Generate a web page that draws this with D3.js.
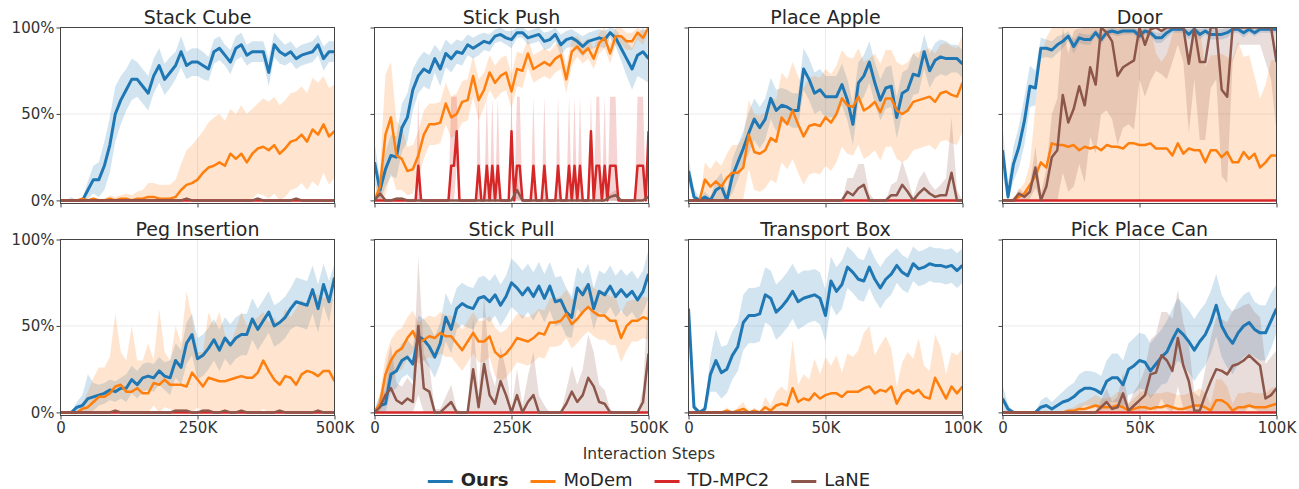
<!DOCTYPE html>
<html>
<head>
<meta charset="utf-8">
<script src="https://cdn.jsdelivr.net/npm/d3@7"></script>
<style>
  html, body { margin: 0; padding: 0; background: #fff; }
  svg { display: block; font-family: "DejaVu Sans", sans-serif; }
</style>
</head>
<body>
<svg id="chart" width="1299" height="489"></svg>
<script>
// ---- Methods, ticks ----
const methodNames = ["Ours", "MoDem", "TD-MPC2", "LaNE"];
const methodColors = ["#1f77b4", "#ff7f0e", "#d62728", "#8c564b"];
const yTickValues = [0, 50, 100];
const yTickLabels = ["0%", "50%", "100%"];
const xTickValues500 = [0, 250000, 500000];
const xTickLabels500 = ["0", "250K", "500K"];
const xTickValues100 = [0, 50000, 100000];
const xTickLabels100 = ["0", "50K", "100K"];
const xAxisTitle = "Interaction Steps";

// Success rate (%) per evaluation; *Sd = spread of the shaded band
const flatZero = [0,0,0,0,0,0,0,0,0,0, 0,0,0,0,0,0,0,0,0,0, 0,0,0,0,0,0,0,0,0,0, 0,0,0,0,0,0,0,0,0,0, 0,0,0,0,0,0,0,0,0,0, 0];

// Stack Cube (every 10K steps)
const stackCubeOurs = [0,0,0,0,0,6,12,12,20,32, 50,58,64,70,70,66,62,72,78,70, 74,78,86,78,80,80,78,76,86,88, 84,80,88,90,84,86,86,86,74,90, 86,84,86,82,84,85,86,90,82,86, 86];
const stackCubeOursSd = [0,0,2,0,1,5,8,10,14,16, 16,14,12,12,10,10,10,10,10,9, 9,8,9,8,8,8,8,7,7,7, 6,7,7,7,6,6,6,6,8,7, 7,6,6,6,6,6,6,6,7,6, 6];
const stackCubeModem = [0,0,0,0,1,0,1,0,0,1, 0,1,1,0,1,1,2,2,1,1, 1,2,6,9,10,12,16,19,20,22, 20,27,24,27,22,27,30,31,29,32, 27,30,34,35,38,34,41,38,44,37, 40];
const stackCubeModemSd = [0,0,0,0,1,1,1,1,1,2, 2,2,3,3,4,5,8,8,8,8, 8,10,15,20,22,24,24,26,28,28, 26,26,26,28,28,26,26,28,28,28, 28,28,28,28,28,28,30,30,28,28, 27];
const stackCubeLane = [0,0,0,0,0,0,0,0,0,0, 0,0,0,0,0,0,0,0,0,0, 0,0,0,1,0,0,0,0,0,0, 0,0,0,0,0,0,1,0,0,0, 0,0,0,1,0,0,0,0,0,0, 0];
const stackCubeLaneSd = [0,0,0,0,0,0,0,0,0,0, 0,0,0,0,0,0,0,0,0,0, 0,0,0,1,0,0,0,0,0,0, 0,0,0,0,0,0,1,0,0,0, 0,0,0,1,0,0,0,0,0,0, 0];

// Stick Push (every 10K steps; TD-MPC2 every 5K)
const stickPushOurs = [22,6,18,26,25,42,48,64,72,76, 74,82,76,85,82,86,85,90,88,90, 92,91,95,96,94,93,97,97,94,95, 96,92,93,96,90,93,94,92,89,92, 93,94,93,97,94,88,82,76,84,86, 82];
const stickPushOursSd = [12,6,10,12,12,14,14,12,10,10, 10,8,10,8,8,7,7,6,6,6, 5,5,4,4,4,5,3,3,4,4, 4,5,5,4,6,5,5,5,6,5, 5,5,5,3,5,7,10,12,12,16, 14];
const stickPushModem = [0,8,38,48,26,24,17,18,26,38, 44,44,45,56,48,50,57,58,72,58, 64,74,68,72,74,63,76,75,85,76, 78,80,78,82,84,70,86,89,85,88, 82,91,94,85,95,95,92,92,97,94, 100];
const stickPushModemSd = [2,10,35,32,20,18,14,14,14,14, 12,12,12,12,12,12,12,12,12,12, 10,10,10,10,10,10,10,10,8,8, 8,8,8,8,8,8,8,6,6,6, 6,6,6,6,5,5,5,5,4,4, 3];
const stickPushTdmpc = [0,0,0,0,0,0,0,0,0,0, 0,0,0,0,0,0,20,0,0,0, 0,0,0,0,0,0,0,0,20,20,
  40,0,0,0,0,0,0,0,20,0, 0,20,0,20,0,20,0,0,0,0, 40,0,20,20,0,0,0,0,20,0,
  0,0,20,0,0,0,0,20,0,0, 0,20,0,20,0,20,0,0,0,40, 0,20,20,0,20,0,20,20,20,0,
  0,0,0,0,0,0,20,20,20,0, 40];
const stickPushTdmpcSd = [0,0,0,0,0,0,0,0,0,0, 0,0,0,0,0,0,40,0,0,0, 0,0,0,0,0,0,0,0,40,40,
  20,0,0,0,0,0,0,0,40,0, 0,40,0,40,0,40,0,0,0,0, 20,0,40,40,0,0,0,0,40,0,
  0,0,40,0,0,0,0,40,0,0, 0,40,0,40,0,40,0,0,0,20, 0,40,40,0,40,0,40,40,40,0,
  0,0,0,0,0,0,40,40,40,0, 20];
const stickPushLane = [0,4,0,0,1,1,0,0,0,0, 0,0,0,0,0,0,0,0,0,0, 0,0,0,0,0,0,6,0,0,0, 0,0,0,0,0,0,0,0,0,0, 0,0,0,2,3,0,0,0,0,0, 2];
const stickPushLaneSd = [0,4,0,0,1,1,0,0,0,0, 0,0,0,0,0,0,0,0,0,0, 0,0,0,0,0,0,5,0,0,0, 0,0,0,0,0,0,0,0,0,0, 0,0,0,2,3,0,0,0,0,0, 2];

// Place Apple (every 2K steps)
const placeAppleOurs = [17,2,0,2,0,6,8,0,14,22, 30,39,47,42,47,59,52,55,54,52, 52,76,70,62,64,60,60,60,67,58, 44,68,72,80,68,58,65,66,48,62, 64,73,72,86,75,81,83,82,82,82, 79];
const placeAppleOursSd = [8,5,1,3,2,6,8,5,10,10, 10,12,12,12,12,12,12,10,10,10, 10,12,12,12,12,12,12,12,12,12, 12,12,12,12,12,12,12,12,12,12, 12,12,10,10,10,10,10,10,8,8, 8];
const placeAppleModem = [0,0,0,12,8,11,8,13,16,16, 19,38,28,27,29,36,34,48,44,52, 44,37,43,44,43,48,45,50,59,55, 54,60,52,54,57,51,59,59,52,50, 52,57,58,59,60,57,62,63,61,60, 68];
const placeAppleModemSd = [0,0,0,10,10,12,12,14,16,16, 18,20,22,22,22,24,24,26,26,28, 28,28,28,28,28,28,28,28,28,28, 28,28,28,28,28,28,28,28,28,28, 28,28,28,28,28,28,28,28,28,28, 28];
const placeAppleLane = [0,0,0,0,0,0,0,0,0,0, 0,0,0,0,0,0,0,0,0,0, 0,0,0,0,0,0,0,0,0,5, 3,7,9,0,0,0,0,3,3,9, 5,0,4,7,4,2,3,3,16,0, 0];
const placeAppleLaneSd = [0,0,0,0,0,0,0,0,0,0, 0,0,0,0,0,0,0,0,0,0, 0,0,0,0,0,0,0,0,0,8, 10,14,12,4,0,0,0,6,8,14, 8,2,8,10,6,4,6,10,32,6, 0];

// Door (every 2K steps)
const doorOurs = [29,2,21,31,46,66,65,88,88,87, 90,92,95,89,94,93,93,97,93,97, 98,97,98,98,98,95,98,97,94,94, 97,99,99,99,96,99,96,98,96,96, 96,97,99,99,97,99,97,99,99,99, 99];
const doorOursSd = [14,8,10,12,14,12,10,6,5,5, 5,4,3,4,3,3,3,2,3,2, 2,2,2,2,2,3,2,2,3,3, 3,2,2,2,3,2,3,2,3,3, 3,3,2,2,3,2,2,2,2,2, 2];
const doorModem = [0,0,0,2,4,9,14,22,19,33, 32,32,31,32,29,31,30,31,29,32, 31,31,30,33,33,32,32,33,30,30, 30,26,33,27,30,29,29,22,29,29, 25,28,22,22,28,24,27,19,22,26, 26];
const doorModemSd = [0,0,2,4,6,12,40,60,75,70, 70,70,70,70,70,70,70,70,70,70, 70,70,70,70,70,70,70,70,55,50, 55,70,70,70,55,70,70,55,55,55, 60,55,60,70,55,60,45,40,45,55, 55];
const doorLane = [0,0,0,4,2,5,19,0,8,25, 29,61,45,53,66,55,77,67,100,97, 92,72,77,79,81,100,90,99,100,98, 100,100,100,100,79,100,80,80,100,100, 64,60,100,100,100,100,100,100,100,100, 80];
const doorLaneSd = [0,0,0,3,2,4,12,4,10,25, 30,45,40,45,45,45,40,40,50,45, 45,40,35,35,40,30,30,30,25,25, 30,20,10,20,40,30,45,45,35,30, 50,50,20,10,10,10,10,10,20,30, 40];

// Peg Insertion (every 10K steps)
const pegInsertionOurs = [0,0,0,3,4,8,9,10,11,13, 12,14,14,19,16,20,21,20,24,21, 20,30,26,40,45,31,33,37,42,36, 43,39,43,45,45,54,48,53,58,50, 52,55,60,64,63,62,71,60,74,64, 78];
const pegInsertionOursSd = [0,0,0,3,6,14,8,6,6,6, 6,6,8,8,8,8,8,8,8,8, 10,10,10,12,12,12,12,12,12,12, 12,12,12,12,12,12,12,12,12,12, 12,12,12,14,14,14,14,14,12,12, 8];
const pegInsertionModem = [0,0,0,0,2,3,6,9,9,11, 15,16,12,12,14,11,11,17,16,19, 16,16,16,15,23,19,15,20,19,18, 18,19,20,21,20,20,23,30,24,19, 16,21,20,16,22,24,23,21,24,24, 18];
const pegInsertionModemSd = [0,0,0,0,3,9,14,17,17,21, 42,19,18,38,16,19,29,13,44,16, 14,34,24,55,32,16,20,38,31,40, 27,21,28,37,30,33,32,28,28,36, 34,39,35,44,43,38,45,47,42,44, 47];
const pegInsertionLane = [0,0,0,0,0,0,0,0,0,0, 1,0,0,0,0,0,0,0,0,0, 0,1,1,1,0,0,1,1,0,0, 1,0,0,1,0,0,0,0,0,0, 1,0,0,0,0,0,0,1,0,0, 0];
const pegInsertionLaneSd = [0,0,0,0,0,0,0,0,0,0, 1,0,0,0,0,0,0,0,0,0, 0,1,1,1,0,0,1,1,0,0, 1,0,0,1,0,0,0,0,0,0, 1,0,0,0,0,0,0,1,0,0, 0];

// Stick Pull (every 10K steps)
const stickPullOurs = [0,4,5,22,24,30,32,28,44,42, 38,32,40,55,48,60,63,61,60,66, 67,64,68,62,67,75,72,68,72,67, 73,66,73,64,65,58,55,72,68,74, 60,70,68,73,67,71,67,70,65,70, 80];
const stickPullOursSd = [2,6,8,10,10,10,10,10,12,12, 12,12,12,14,14,12,12,12,12,12, 12,12,12,12,12,14,14,14,14,14, 14,14,14,14,14,14,12,12,12,12, 12,12,12,12,12,12,12,12,12,12, 14];
const stickPullModem = [0,5,22,30,35,37,43,47,40,42, 44,43,46,44,44,40,36,41,46,41, 41,44,35,32,34,38,43,42,41,43, 46,45,52,52,53,57,51,54,58,61, 58,56,56,53,53,43,50,53,53,55, 54];
const stickPullModemSd = [0,6,10,12,12,12,12,12,12,12, 12,12,12,12,12,12,12,12,12,12, 12,12,14,14,14,14,14,14,14,14, 14,14,14,14,14,14,14,14,14,14, 14,14,14,14,14,14,14,12,12,12, 12];
const stickPullLane = [0,3,10,14,7,5,8,6,50,14, 12,0,0,3,6,0,0,0,25,3, 28,10,5,18,10,0,10,0,6,10, 0,0,0,0,0,5,12,6,10,20, 15,6,5,0,0,0,0,0,0,6, 34];
const stickPullLaneSd = [0,5,15,25,10,10,12,10,40,20, 15,2,2,6,10,2,0,0,30,8, 40,15,10,20,15,2,15,4,15,25, 10,4,0,0,0,8,15,10,15,25, 20,10,8,2,0,0,0,0,0,8, 36];

// Transport Box (every 2K steps)
const transportBoxOurs = [60,3,0,2,22,30,23,25,33,38, 52,56,56,57,68,66,58,61,65,70, 64,66,67,68,66,56,76,70,74,84, 81,77,76,84,77,72,77,80,85,81, 79,86,83,84,86,85,85,84,85,82, 85];
const transportBoxOursSd = [5,3,0,3,10,18,15,14,14,14, 16,16,16,16,16,16,16,16,16,16, 16,16,15,15,15,15,14,14,14,12, 12,12,12,12,12,12,12,12,10,10, 10,10,10,10,10,10,10,10,10,10, 10];
const transportBoxModem = [0,0,0,0,0,0,0,1,0,1, 2,0,1,0,3,1,4,5,4,14, 6,8,7,11,8,10,11,11,9,12, 12,12,14,15,11,13,12,15,5,11, 13,11,13,9,8,20,14,8,15,11, 15];
const transportBoxModemSd = [0,0,0,0,0,0,0,2,0,2, 4,0,2,0,6,3,8,10,8,28, 10,14,12,20,14,22,16,22,14,22, 20,24,32,35,22,26,32,22,10,18, 22,20,30,18,16,25,24,14,20,22, 22];

// Pick Place Can (every 2K steps)
const pickPlaceCanOurs = [8,2,0,0,0,0,0,3,4,2, 4,6,7,9,12,14,14,13,11,18, 20,20,16,25,27,30,29,24,28,32, 35,42,48,45,41,36,41,45,52,62, 50,44,40,46,50,52,48,46,46,53, 60];
const pickPlaceCanOursSd = [8,3,0,0,0,0,0,4,5,4, 5,6,8,8,10,10,10,10,10,12, 14,14,14,15,16,16,16,16,16,16, 18,18,18,18,18,18,18,18,18,18, 18,18,18,18,18,18,16,16,16,16, 14];
const pickPlaceCanModem = [0,0,0,0,0,0,0,0,0,0, 0,0,1,1,2,2,3,4,3,3, 3,4,3,1,2,3,3,2,3,3, 4,3,2,2,3,4,4,3,1,7, 7,5,1,3,3,4,3,3,3,4, 5];
const pickPlaceCanModemSd = [0,0,0,0,0,0,0,0,0,0, 0,0,1,2,3,4,5,6,5,5, 6,8,8,4,6,8,10,8,8,8, 8,8,8,8,8,8,10,8,4,12, 12,10,4,8,8,8,8,8,8,10, 10];
const pickPlaceCanLane = [0,0,0,0,0,0,0,0,0,0, 0,0,0,0,0,0,0,0,3,6, 2,3,11,1,4,7,10,22,23,33, 30,24,43,27,18,1,1,10,18,25, 24,22,27,28,30,33,30,27,8,10, 14];
const pickPlaceCanLaneSd = [0,0,0,0,0,0,0,0,0,0, 0,0,0,0,0,0,0,0,4,8, 4,6,12,4,8,10,15,20,22,25, 28,30,28,25,22,10,8,15,25,30, 30,30,32,32,32,30,28,28,20,22, 22];

// ---- Panel definitions (series order: Ours, MoDem, TD-MPC2, LaNE) ----
const long = { xMax: 500000, tickValues: xTickValues500, tickLabels: xTickLabels500 };
const short = { xMax: 100000, tickValues: xTickValues100, tickLabels: xTickLabels100 };
const panels = [
  { title: "Stack Cube", ...long, series: [
    { mean: stackCubeOurs, sd: stackCubeOursSd, step: 10000 },
    { mean: stackCubeModem, sd: stackCubeModemSd, step: 10000 },
    { mean: flatZero, step: 10000 },
    { mean: stackCubeLane, sd: stackCubeLaneSd, step: 10000 }] },
  { title: "Stick Push", ...long, series: [
    { mean: stickPushOurs, sd: stickPushOursSd, step: 10000 },
    { mean: stickPushModem, sd: stickPushModemSd, step: 10000 },
    { mean: stickPushTdmpc, sd: stickPushTdmpcSd, step: 5000 },
    { mean: stickPushLane, sd: stickPushLaneSd, step: 10000 }] },
  { title: "Place Apple", ...short, series: [
    { mean: placeAppleOurs, sd: placeAppleOursSd, step: 2000 },
    { mean: placeAppleModem, sd: placeAppleModemSd, step: 2000 },
    { mean: flatZero, step: 2000 },
    { mean: placeAppleLane, sd: placeAppleLaneSd, step: 2000 }] },
  { title: "Door", ...short, series: [
    { mean: doorOurs, sd: doorOursSd, step: 2000 },
    { mean: doorModem, sd: doorModemSd, step: 2000 },
    { mean: flatZero, step: 2000 },
    { mean: doorLane, sd: doorLaneSd, step: 2000 }] },
  { title: "Peg Insertion", ...long, series: [
    { mean: pegInsertionOurs, sd: pegInsertionOursSd, step: 10000 },
    { mean: pegInsertionModem, sd: pegInsertionModemSd, step: 10000 },
    { mean: flatZero, step: 10000 },
    { mean: pegInsertionLane, sd: pegInsertionLaneSd, step: 10000 }] },
  { title: "Stick Pull", ...long, series: [
    { mean: stickPullOurs, sd: stickPullOursSd, step: 10000 },
    { mean: stickPullModem, sd: stickPullModemSd, step: 10000 },
    { mean: flatZero, step: 10000 },
    { mean: stickPullLane, sd: stickPullLaneSd, step: 10000 }] },
  { title: "Transport Box", ...short, series: [
    { mean: transportBoxOurs, sd: transportBoxOursSd, step: 2000 },
    { mean: transportBoxModem, sd: transportBoxModemSd, step: 2000 },
    { mean: flatZero, step: 2000 },
    { mean: flatZero, step: 2000 }] },
  { title: "Pick Place Can", ...short, series: [
    { mean: pickPlaceCanOurs, sd: pickPlaceCanOursSd, step: 2000 },
    { mean: pickPlaceCanModem, sd: pickPlaceCanModemSd, step: 2000 },
    { mean: flatZero, step: 2000 },
    { mean: pickPlaceCanLane, sd: pickPlaceCanLaneSd, step: 2000 }] }
];

// ---- Layout ----
const svg = d3.select("#chart");
const colLeft = [60, 374, 688, 1002];
const rowTop = [27, 239];
const plotW = 274;
const plotH = 176;
const lineWidths = [3, 2.5, 2.5, 2.5];
const textColor = "#333";
const defs = svg.append("defs");

panels.forEach((p, i) => {
  const col = i % 4, row = Math.floor(i / 4);
  const g = svg.append("g")
    .attr("transform", `translate(${colLeft[col] + 0.5},${rowTop[row] + 0.5})`);

  const x = d3.scaleLinear().domain([0, p.xMax]).range([0, plotW]);
  const y = d3.scaleLinear().domain([-1.8, 100]).range([plotH, 0]);

  // light grid
  g.append("g").selectAll("line").data(yTickValues).join("line")
    .attr("x1", 0).attr("x2", plotW)
    .attr("y1", d => y(d)).attr("y2", d => y(d))
    .attr("stroke", "#ebebeb").attr("stroke-width", 1);
  g.append("g").selectAll("line").data(p.tickValues).join("line")
    .attr("y1", 0).attr("y2", plotH)
    .attr("x1", d => x(d)).attr("x2", d => x(d))
    .attr("stroke", "#ebebeb").attr("stroke-width", 1);

  defs.append("clipPath").attr("id", "clip" + i)
    .append("rect").attr("x", 0).attr("y", 0).attr("width", plotW).attr("height", plotH);
  const plot = g.append("g").attr("clip-path", `url(#clip${i})`);

  // shaded bands
  p.series.forEach((s, j) => {
    if (!s.sd) return;
    const area = d3.area()
      .x((d, k) => x(k * s.step))
      .y0((d, k) => y(Math.max(0, d - s.sd[k])))
      .y1((d, k) => y(Math.min(100, d + s.sd[k])));
    plot.append("path").datum(s.mean)
      .attr("d", area)
      .attr("fill", methodColors[j])
      .attr("fill-opacity", 0.2);
  });

  // mean curves
  p.series.forEach((s, j) => {
    const line = d3.line()
      .x((d, k) => x(k * s.step))
      .y(d => y(d));
    plot.append("path").datum(s.mean)
      .attr("d", line)
      .attr("fill", "none")
      .attr("stroke", methodColors[j])
      .attr("stroke-width", lineWidths[j])
      .attr("stroke-linejoin", "round")
      .attr("stroke-linecap", "butt");
  });

  // axes
  const yAxis = d3.axisLeft(y).tickValues(yTickValues).tickSize(4).tickPadding(2)
    .tickFormat((d, k) => col === 0 ? yTickLabels[k] : "");
  const ya = g.append("g").call(yAxis);
  const xAxis = d3.axisBottom(x).tickValues(p.tickValues).tickSize(4).tickPadding(3)
    .tickFormat((d, k) => row === 1 ? p.tickLabels[k] : "");
  const xa = g.append("g").attr("transform", `translate(0,${plotH})`).call(xAxis);
  [ya, xa].forEach(a => {
    a.select(".domain").remove();
    a.selectAll(".tick line").attr("stroke", "#444");
    a.selectAll(".tick text")
      .attr("fill", textColor)
      .style("font-size", "15px")
      .style("font-family", "'DejaVu Sans', sans-serif");
  });

  // frame
  g.append("rect").attr("width", plotW).attr("height", plotH)
    .attr("fill", "none").attr("stroke", "#444").attr("stroke-width", 1);

  // title
  g.append("text")
    .attr("x", plotW / 2).attr("y", -4)
    .attr("text-anchor", "middle")
    .attr("fill", "#262626")
    .style("font-size", "19px")
    .text(p.title);
});

// shared x-axis title
svg.append("text")
  .attr("x", 649).attr("y", 459)
  .attr("text-anchor", "middle")
  .attr("fill", textColor)
  .style("font-size", "15.5px")
  .text(xAxisTitle);

// legend
const legend = svg.append("g");
let cursor = 0;
methodNames.forEach((name, j) => {
  const item = legend.append("g").attr("transform", `translate(${cursor},0)`);
  item.append("line")
    .attr("x1", 0).attr("x2", 25).attr("y1", -4.5).attr("y2", -4.5)
    .attr("stroke", methodColors[j]).attr("stroke-width", 3);
  const t = item.append("text")
    .attr("x", 33).attr("y", 0)
    .attr("fill", "#262626")
    .style("font-size", "18px")
    .style("font-weight", j === 0 ? "bold" : "normal")
    .text(name);
  cursor += 33 + t.node().getComputedTextLength() + 22;
});
const legendWidth = cursor - 22;
legend.attr("transform", `translate(${649 - legendWidth / 2},486)`);
</script>
</body>
</html>
